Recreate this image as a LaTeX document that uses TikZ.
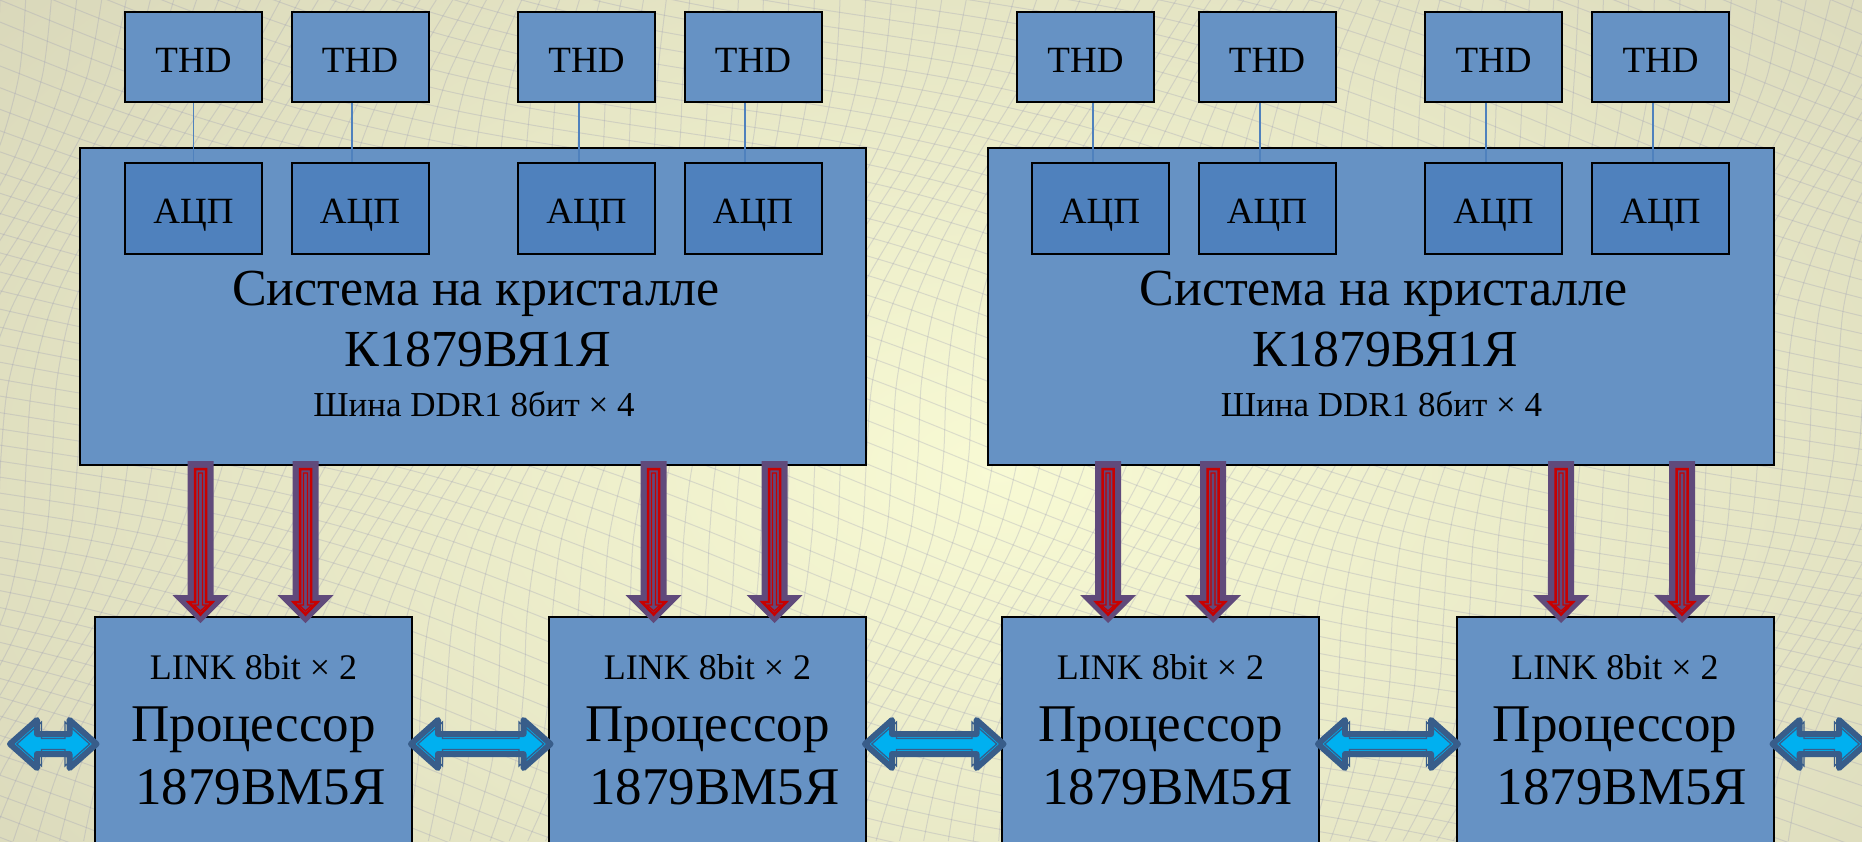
\documentclass[tikz,border=0pt]{standalone}
\usepackage{fontspec}
\setmainfont{Liberation Serif}
\usetikzlibrary{calc}
\definecolor{boxblue}{RGB}{102,146,196}
\definecolor{adcblue}{RGB}{79,129,189}
\definecolor{ddrpurple}{RGB}{96,74,123}
\definecolor{ddrred}{RGB}{200,0,0}
\definecolor{linkcyan}{RGB}{0,176,240}
\definecolor{linkdark}{RGB}{56,93,138}
\definecolor{bgA}{RGB}{212,210,182}
\definecolor{bgC}{RGB}{248,250,212}
\definecolor{meshc}{RGB}{150,150,180}

\tikzset{
 blk/.style={draw=black, line width=2pt, fill=boxblue, inner sep=0pt},
 socbox/.style={blk, minimum width=786pt, minimum height=317pt},
 thdbox/.style={blk, minimum width=137pt, minimum height=90pt, font=\fontsize{37}{40}\selectfont, text height=30pt, text depth=0pt},
 adcbox/.style={thdbox, fill=adcblue, minimum height=91pt},
 procbox/.style={blk, minimum width=317pt, minimum height=260pt},
 bigtxt/.style={font=\fontsize{52}{60}\selectfont, inner sep=0pt, anchor=base},
 smalltxt/.style={font=\fontsize{35}{40}\selectfont, inner sep=0pt, anchor=base},
 wire/.style={draw=adcblue, line width=1.5pt},
 mesh/.style={draw=meshc, line width=1pt, opacity=0.28},
 ddrbody/.style={fill=ddrpurple},
 ddrline/.style={draw=ddrred, line width=2.5pt, line join=miter},
 linkbody/.style={fill=linkcyan, draw=linkdark, line width=6pt, line join=round},
 linkline/.style={draw=linkdark, line width=1.3pt, line join=miter},
}

\newcommand\ddrarrow[3]{%
 \coordinate (dT) at ($(#1.south west)+(#3,-5)$);
 \coordinate (dB) at ($(dT |- #2.north)+(0,7)$);
 \fill[ddrbody] ($(dT)+(-13,0)$) -- ($(dB)+(-13,-28)$) -- ($(dB)+(-28,-28)$) -- (dB) -- ($(dB)+(28,-28)$) -- ($(dB)+(13,-28)$) -- ($(dT)+(13,0)$) -- cycle;
 \draw[ddrline] ($(dT)+(-5.5,8)$) -- ($(dB)+(-5.5,-21)$) -- ($(dB)+(-12,-21)$) -- ($(dB)+(0,-8.5)$) -- ($(dB)+(12,-21)$) -- ($(dB)+(5.5,-21)$) -- ($(dT)+(5.5,8)$) -- cycle;
 \draw[ddrline, line width=1.3pt] ($(dT)+(-2,12)$) -- ($(dB)+(-2,-18)$) -- ($(dB)+(-6.5,-18)$) -- ($(dB)+(0,-12)$) -- ($(dB)+(6.5,-18)$) -- ($(dB)+(2,-18)$) -- ($(dT)+(2,12)$) -- cycle;
}

\newcommand\linkarrow[2]{%
 \draw[linkbody] (#1) -- ++(27,-24) -- ++(0,14) -- ($(#2)+(-27,-10)$) -- ++(0,-14) -- (#2) -- ++(-27,24) -- ++(0,-14) -- ($(#1)+(27,10)$) -- ++(0,14) -- cycle;
 \draw[linkline] ($(#1)+(6.8,0)$) -- ++(24.7,-21.95) -- ++(0,16.45) -- ($(#2)+(-31.5,-5.5)$) -- ++(0,-16.45) -- ($(#2)+(-6.8,0)$) -- ++(-24.7,21.95) -- ++(0,-16.45) -- ($(#1)+(31.5,5.5)$) -- ++(0,16.45) -- cycle;
}

\begin{document}
\begin{tikzpicture}[x=1pt, y=-1pt]
\useasboundingbox (0,0) rectangle (1862,841);
% background
\fill[bgA] (0,0) rectangle (1862,841);
\shade[inner color=bgC, outer color=bgA] (1000,470) ellipse (1500 and 900);
\begin{scope}
\clip (0,0) rectangle (1862,841);
\foreach \k in {-30,...,100} {
  \draw[mesh] plot[smooth, domain=0:841, samples=12] ({\k*21 - 0.35*\x + 30*sin(\x*0.6 + \k*9)}, \x);
}
\foreach \k in {-45,...,50} {
  \draw[mesh] plot[smooth, domain=0:1862, samples=22] (\x, {\k*19 + 0.28*\x + 25*sin(\x*0.3 + \k*7)});
}
\end{scope}

% systems on chip
\node[socbox] (soc1) at (473,306.5) {};
\node[socbox] (soc2) at (1380.5,306.5) {};
\foreach \s in {soc1,soc2} {
  \node[bigtxt] (\s a) at ($(\s.north)+(3,158)$) {Система на кристалле};
  \node[bigtxt] (\s b) at ($(\s.north)+(5,219)$) {К1879ВЯ1Я};
  \node[smalltxt] (\s c) at ($(\s.north)+(1,269)$) {Шина DDR1 8бит × 4};
}

% ADC and THD
\foreach \n/\xt/\xa in {1/193.5/193.5, 2/360/360, 3/586.5/586.5, 4/753/753, 5/1085.5/1100, 6/1267/1267, 7/1493.5/1493.5, 8/1660.5/1660.5} {
  \node[adcbox] (a\n) at (\xa,208.5) {АЦП};
  \node[thdbox] (t\n) at (\xt,57) {THD};
}
\draw[wire] (t1.south) -- (a1.north);
\draw[wire] ($(t2.south)+(-8,0)$) -- ($(a2.north)+(-8,0)$);
\draw[wire] ($(t3.south)+(-7.5,0)$) -- ($(a3.north)+(-7.5,0)$);
\draw[wire] ($(t4.south)+(-8,0)$) -- ($(a4.north)+(-8,0)$);
\draw[wire] ($(t5.south)+(7.5,0)$) -- ($(a5.north)+(-7,0)$);
\draw[wire] ($(t6.south)+(-7,0)$) -- ($(a6.north)+(-7,0)$);
\draw[wire] ($(t7.south)+(-7.5,0)$) -- ($(a7.north)+(-7.5,0)$);
\draw[wire] ($(t8.south)+(-7.5,0)$) -- ($(a8.north)+(-7.5,0)$);

% processors
\foreach \n/\x in {1/253.5, 2/707.5, 3/1160.5, 4/1615} {
  \node[procbox] (p\n) at (\x,747) {};
  \node[smalltxt, font=\fontsize{36}{40}\selectfont] (p\n a) at ($(p\n.north)+(0,63)$) {LINK 8bit × 2};
  \node[bigtxt, font=\fontsize{53}{60}\selectfont] (p\n b) at ($(p\n.north)+(0,125)$) {Процессор};
  \node[bigtxt, font=\fontsize{53}{60}\selectfont] (p\n c) at ($(p\n.north)+(7,188)$) {1879ВМ5Я};
}

% DDR arrows
\ddrarrow{soc1}{p1}{121.5}
\ddrarrow{soc1}{p1}{226.5}
\ddrarrow{soc1}{p2}{574.5}
\ddrarrow{soc1}{p2}{695.5}
\ddrarrow{soc2}{p3}{121.5}
\ddrarrow{soc2}{p3}{226.5}
\ddrarrow{soc2}{p4}{574.5}
\ddrarrow{soc2}{p4}{695.5}

% LINK arrows
\coordinate (ylink) at (0,744);
\coordinate (lfreeL) at (10,744);
\coordinate (lfreeR) at (1866,744);
\foreach \n in {1,2,3,4} {
  \coordinate (w\n) at ($(p\n.west |- ylink)+(2.5,0)$);
  \coordinate (e\n) at ($(p\n.east |- ylink)+(-2,0)$);
}
\linkarrow{lfreeL}{w1}
\linkarrow{e1}{w2}
\linkarrow{e2}{w3}
\linkarrow{e3}{w4}
\linkarrow{e4}{lfreeR}
\end{tikzpicture}
\end{document}
